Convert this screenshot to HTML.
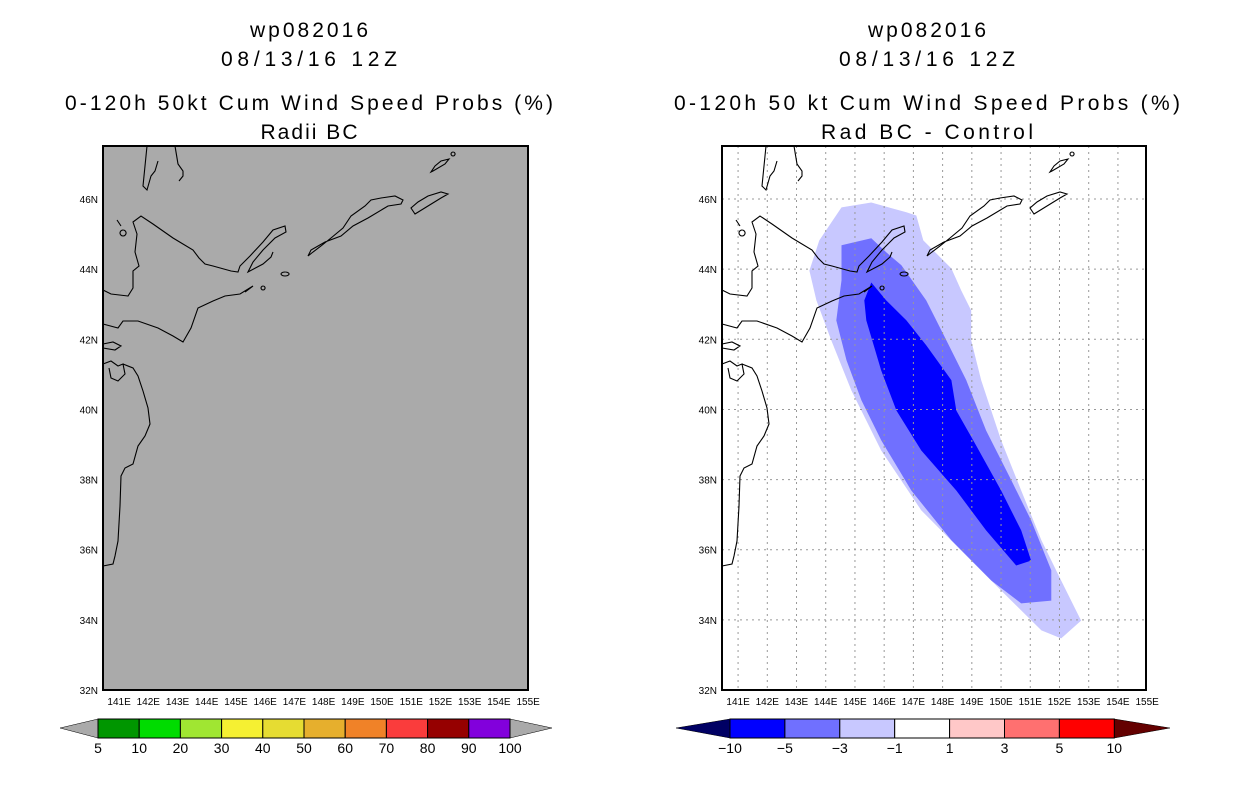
<!DOCTYPE html>
<html><head><meta charset="utf-8"><style>
body{margin:0;background:#fff;}
svg{display:block;font-family:"Liberation Sans",sans-serif;}
</style></head><body>
<svg id="s" width="1236" height="800" viewBox="0 0 1236 800">
<defs>
<g id="coast" fill="none" stroke="#000" stroke-width="1.1">
<path d="M44 0 L42 20 L40 40 L44 44 L48 30 L52 25 L55 15 M72 0 L75 18 L80 25 L80 30 L76 35 M14 74 L18 80 M20 84 a3 3 0 1 0 .1 0 M0 144 L8 148 L25 150 L30 142 L30 125 L36 120 L32 106 L34 88 L30 76 L38 70 L50 78 L70 92 L90 104 L96 112 L102 118 L110 120 L128 125 L135 126 L137 120 L147 110 L160 96 L170 84 L182 80 L183 86 L172 92 L160 104 L150 116 L145 126 L160 118 L168 111 L170 106 M142 146 L150 140 L137 148 L122 150 L110 155 L95 162 L88 182 L80 196 L70 190 L55 182 L35 175 L20 175 L15 182 L0 178 M0 198 L10 196 L18 200 L12 204 L0 202 M0 218 L8 215 L15 220 L20 218 L22 228 L15 235 L8 232 L6 222 M20 218 L30 222 L35 230 L40 245 L45 262 L47 278 L42 290 L35 300 L30 318 L22 322 L18 330 L17 360 L15 395 L12 410 L10 418 L0 420 M182 126 a4 2 0 1 0 .1 0 M160 140 a2 2 0 1 0 .1 0 M265 72 L285 60 L298 58 L300 54 L292 50 L278 52 L268 54 L262 60 L248 70 L240 82 L228 92 L218 100 L210 106 L205 110 L208 104 L222 96 L238 90 L250 80 Z M312 68 L325 60 L338 52 L345 48 L338 46 L325 50 L315 56 L308 62 Z M330 25 L342 18 L346 13 L338 15 L332 20 L328 26 Z M350 6 a2 2 0 1 0 .1 0"/>
</g>
</defs>
<g font-size="21" text-anchor="middle" fill="#000" lengthAdjust="spacingAndGlyphs">
<text x="309" y="37" textLength="118">wp082016</text>
<text x="309" y="66" textLength="176">08/13/16 12Z</text>
<text x="309" y="110" textLength="488">0-120h 50kt Cum Wind Speed Probs (%)</text>
<text x="309" y="139" textLength="97">Radii BC</text>
</g>
<g font-size="21" text-anchor="middle" fill="#000">
<text x="927" y="37" textLength="118">wp082016</text>
<text x="927" y="66" textLength="176">08/13/16 12Z</text>
<text x="927" y="110" textLength="506">0-120h 50 kt Cum Wind Speed Probs (%)</text>
<text x="927" y="139" textLength="212">Rad BC - Control</text>
</g>
<rect x="103" y="146" width="425" height="544" fill="#aaaaaa"/>
<g id="rightShade"></g>
<g id="rightGrid"></g>
<g transform="translate(103,146)"><use href="#coast"/></g>
<g transform="translate(722,146)"><use href="#coast"/></g>
<rect x="103" y="146" width="425" height="544" fill="none" stroke="#000" stroke-width="2"/>
<rect x="722" y="146" width="424" height="544" fill="none" stroke="#000" stroke-width="2"/>
<g id="axes" font-size="10" fill="#000"></g>
<g id="cbars" font-size="14" fill="#000"></g>
</svg>
<script>
const lonTicks=[141,142,143,144,145,146,147,148,149,150,151,152,153,154,155];
const latTicks=[32,34,36,38,40,42,44,46];
const probLevels=["5","10","20","30","40","50","60","70","80","90","100"];
const probColors=["#009600","#00dc00","#a0e632","#f5f032","#e6dc32","#e6af2d","#f08228","#fa3c3c","#960000","#8200dc"];
const diffLevels=["-10","-5","-3","-1","1","3","5","10"];
const diffColors=["#0000ff","#7070ff","#c8c8ff","#ffffff","#ffc8c8","#ff7070","#ff0000"];
const lightLon=[144.54,145.56,146.76,147.1,147.34,148.3,148.64,148.98,148.98,149.32,150.0,150.69,151.38,152.06,152.74,152.06,151.38,150.35,148.98,147.27,145.9,144.88,144.19,143.68,143.44,143.78];
const lightLat=[45.76,45.9,45.62,45.53,44.82,44.02,43.39,42.82,41.97,40.83,39.12,37.69,36.27,35.12,33.98,33.47,33.7,34.55,35.69,37.12,38.83,40.54,41.97,43.11,43.96,44.82];
const medLon=[144.54,145.56,146.07,146.59,147.44,148.13,148.81,149.49,150.35,151.03,151.72,151.72,150.69,149.67,148.3,146.93,145.9,145.22,144.71,144.36,144.54];
const medLat=[44.68,44.88,44.48,44.11,43.11,41.97,40.83,39.4,37.98,36.84,35.41,34.55,34.47,35.12,36.27,37.69,39.12,40.26,41.4,42.54,43.68];
const darkLon=[145.56,146.07,146.76,147.44,148.3,148.47,149.15,150.0,150.69,151.03,150.52,149.49,148.47,147.27,146.42,145.9,145.39,145.32];
const darkLat=[43.62,43.11,42.54,41.83,40.83,39.97,38.97,37.69,36.55,35.69,35.55,36.55,37.69,38.83,39.97,41.11,42.54,43.11];
const NS="http://www.w3.org/2000/svg";
function mk(t,a,p){const e=document.createElementNS(NS,t);for(const k in a)e.setAttribute(k,a[k]);p.appendChild(e);return e;}
function xL(lon){return 103+(lon-140.45)*29.22;}
function xR(lon){return 722+(lon-140.45)*29.22;}
function yM(lat){return 690-(lat-32)*35.07;}
function poly(lons,lats,color,name){
  const pts=lons.map((l,i)=>xR(l).toFixed(1)+","+yM(lats[i]).toFixed(1)).join(" ");
  const p=mk("polygon",{points:pts,fill:color},document.getElementById("rightShade"));
  
  
}
poly(lightLon,lightLat,"#c8c8ff","contour-minus1");
poly(medLon,medLat,"#7070ff","contour-minus3");
poly(darkLon,darkLat,"#0000ff","contour-minus5");
const g=document.getElementById("rightGrid");
lonTicks.slice(0,14).forEach(l=>{const e=mk("line",{x1:xR(l),x2:xR(l),y1:146,y2:690,stroke:"#999","stroke-dasharray":"2,4","stroke-width":1},g);

});
latTicks.slice(1).forEach(l=>{const e=mk("line",{x1:722,x2:1146,y1:yM(l),y2:yM(l),stroke:"#999","stroke-dasharray":"2,4","stroke-width":1},g);

});
const ax=document.getElementById("axes");
[[xL,103],[xR,722]].forEach(([fx,x0],pi)=>{
  lonTicks.forEach(l=>{const t=mk("text",{x:fx(l),y:705,"text-anchor":"middle"},ax);t.textContent=l+"E";
  
  });
  latTicks.forEach(l=>{const t=mk("text",{x:x0-5,y:yM(l)+4,"text-anchor":"end"},ax);t.textContent=l+"N";
  
  });
});
const cb=document.getElementById("cbars");
function bar(x0,w,levels,colors,lc,rc,tipL,tipR,name){
  const n=colors.length;
  const tl=mk("polygon",{points:`${tipL},728 ${x0},719 ${x0},738`,fill:lc,stroke:"#000","stroke-width":0.5},cb);
  
  
  const tr=mk("polygon",{points:`${tipR},728 ${x0+n*w},719 ${x0+n*w},738`,fill:rc,stroke:"#000","stroke-width":0.5},cb);
  
  
  colors.forEach((c,i)=>{const r=mk("rect",{x:x0+i*w,y:719,width:w,height:19,fill:c,stroke:"#000","stroke-width":1},cb);
  
  });
  levels.forEach((v,i)=>{const t=mk("text",{x:x0+i*w,y:753,"text-anchor":"middle"},cb);t.textContent=v.replace("-","\u2212");
  
  });
}
bar(98,41.2,probLevels,probColors,"#aaaaaa","#aaaaaa",60,552,"prob-colorbar");
bar(730,54.9,diffLevels,diffColors,"#000064","#640000",676,1170,"diff-colorbar");
</script>
</body></html>
